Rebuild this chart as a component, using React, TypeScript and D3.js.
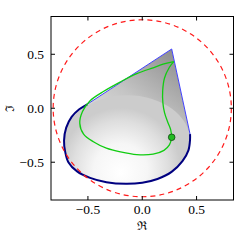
import React from "react";
import * as d3 from "d3";

const xTicks = [-0.5, 0, 0.5];
const yTicks = [-0.5, 0, 0.5];
const xDomain = [-0.84, 0.84];
const yDomain = [-0.85, 0.85];
const circleRadius = 0.82;
const coneApex: [number, number] = [0.271, 0.549];
const navyCurve: [number, number][] = [
  [-0.506, 0.037], [-0.58, -0.01], [-0.65, -0.08], [-0.7, -0.18], [-0.72, -0.3],
  [-0.71, -0.4], [-0.68, -0.5], [-0.6, -0.585], [-0.48, -0.645], [-0.33, -0.685],
  [-0.15, -0.7], [0.0, -0.69], [0.14, -0.655], [0.27, -0.59], [0.37, -0.49],
  [0.425, -0.39], [0.44, -0.29], [0.44, -0.24],
];
const greenUp: [number, number][] = [
  [0.271, -0.269], [0.262, -0.2], [0.235, -0.13], [0.205, -0.04], [0.19, 0.05],
  [0.188, 0.16], [0.205, 0.28], [0.25, 0.38], [0.29, 0.432],
];
const greenLoop: [number, number][] = [
  [0.29, 0.432], [0.2, 0.41], [0.1, 0.375], [-0.05, 0.32], [-0.2, 0.245],
  [-0.35, 0.16], [-0.48, 0.07], [-0.55, -0.03], [-0.575, -0.14], [-0.54, -0.24],
  [-0.45, -0.31], [-0.33, -0.37], [-0.2, -0.405], [-0.05, -0.43], [0.1, -0.425],
  [0.2, -0.39], [0.25, -0.34], [0.271, -0.269],
];
const dotPoint: [number, number] = [0.271, -0.269];
// base ellipse of the shaded cone: centre, radii
const baseEllipse = { cx: -0.14, cy: -0.3, rx: 0.58, ry: 0.42 };

export default function App() {
  const L = 51, R = 233.5, T = 16.5, B = 200;
  const x = d3.scaleLinear().domain(xDomain).range([L, R]);
  const y = d3.scaleLinear().domain(yDomain).range([B, T]);
  const line = d3.line<[number, number]>().x(d => x(d[0])).y(d => y(d[1])).curve(d3.curveCatmullRom);
  const navyPath = line(navyCurve) || "";
  const first = navyCurve[0];
  const last = navyCurve[navyCurve.length - 1];
  const shapePath =
    navyPath +
    `L${x(coneApex[0])},${y(coneApex[1])}L${x(first[0])},${y(first[1])}Z`;
  const blueEdge = `M${x(first[0])},${y(first[1])}L${x(coneApex[0])},${y(coneApex[1])}L${x(last[0])},${y(last[1])}`;
  const font = "'Liberation Serif', 'DejaVu Serif', serif";
  const labFont = "'DejaVu Serif', serif";
  return (
    <svg width={241} height={241} style={{ position: "absolute", left: 0, top: 0 }}>
      <defs>
        <clipPath id="shape"><path d={shapePath} /></clipPath>
        <clipPath id="frame"><rect x={L} y={T} width={R - L} height={B - T} /></clipPath>
        <linearGradient id="cone" gradientUnits="userSpaceOnUse"
          x1={x(coneApex[0])} y1={y(coneApex[1])} x2={x(-0.3)} y2={y(-0.2)}>
          <stop offset="0" stopColor="#8e8e8e" />
          <stop offset="0.6" stopColor="#c4c4c4" />
          <stop offset="1" stopColor="#dcdcdc" />
        </linearGradient>
        <radialGradient id="base" gradientUnits="userSpaceOnUse"
          cx={x(-0.2)} cy={y(-0.55)} r={x(0.55) - x(0)} fx={x(-0.2)} fy={y(-0.6)}>
          <stop offset="0" stopColor="#ffffff" />
          <stop offset="0.45" stopColor="#f6f6f6" />
          <stop offset="0.8" stopColor="#dedede" />
          <stop offset="1" stopColor="#cccccc" />
        </radialGradient>
      </defs>
      <rect x={L} y={T} width={R - L} height={B - T} fill="#fff" />
      <g clipPath="url(#shape)">
        <path d={shapePath} fill="url(#cone)" />
        <ellipse cx={x(baseEllipse.cx)} cy={y(baseEllipse.cy)}
          rx={x(baseEllipse.rx) - x(0)} ry={y(0) - y(baseEllipse.ry)} fill="url(#base)" />
      </g>
      <path d={blueEdge} fill="none" stroke="#4040ff" strokeWidth={1} />
      <path d={navyPath} fill="none" stroke="#000080" strokeWidth={2} />
      <path d={line(greenUp) || ""} fill="none" stroke="#11cc11" strokeWidth={1.3} />
      <path d={line(greenLoop) || ""} fill="none" stroke="#11cc11" strokeWidth={1.3} />
      <circle cx={x(dotPoint[0])} cy={y(dotPoint[1])} r={3.3} fill="#22bb22" stroke="#114411" strokeWidth={0.8} />
      <g clipPath="url(#frame)">
        <ellipse cx={x(0)} cy={y(0)} rx={x(circleRadius) - x(0)} ry={y(0) - y(circleRadius)}
          fill="none" stroke="#ff1a1a" strokeWidth={1.2} strokeDasharray="5,4" />
      </g>
      <rect x={L} y={T} width={R - L} height={B - T} fill="none" stroke="#000" strokeWidth={1} />
      {xTicks.map(t => (
        <g key={"x" + t}>
          <line x1={x(t)} x2={x(t)} y1={B} y2={B - 4} stroke="#000" />
          <line x1={x(t)} x2={x(t)} y1={T} y2={T + 4} stroke="#000" />
          <text x={x(t)} y={214} textAnchor="middle" fontFamily={font} fontSize={13.5}>
            {t === 0 ? "0.0" : (t < 0 ? "\u2212" : "") + Math.abs(t).toFixed(1)}
          </text>
        </g>
      ))}
      {yTicks.map(t => (
        <g key={"y" + t}>
          <line x1={L} x2={L + 4} y1={y(t)} y2={y(t)} stroke="#000" />
          <line x1={R} x2={R - 4} y1={y(t)} y2={y(t)} stroke="#000" />
          <text x={44} y={y(t) + 4.5} textAnchor="end" fontFamily={font} fontSize={13.5}>
            {t === 0 ? "0.0" : (t < 0 ? "\u2212" : "") + Math.abs(t).toFixed(1)}
          </text>
        </g>
      ))}
      <text x={x(0)} y={230} textAnchor="middle" fontFamily={labFont} fontSize={12}>ℜ</text>
      <text transform={`translate(14,${y(0)}) rotate(-90)`} textAnchor="middle" fontFamily={labFont} fontSize={12}>ℑ</text>
    </svg>
  );
}
